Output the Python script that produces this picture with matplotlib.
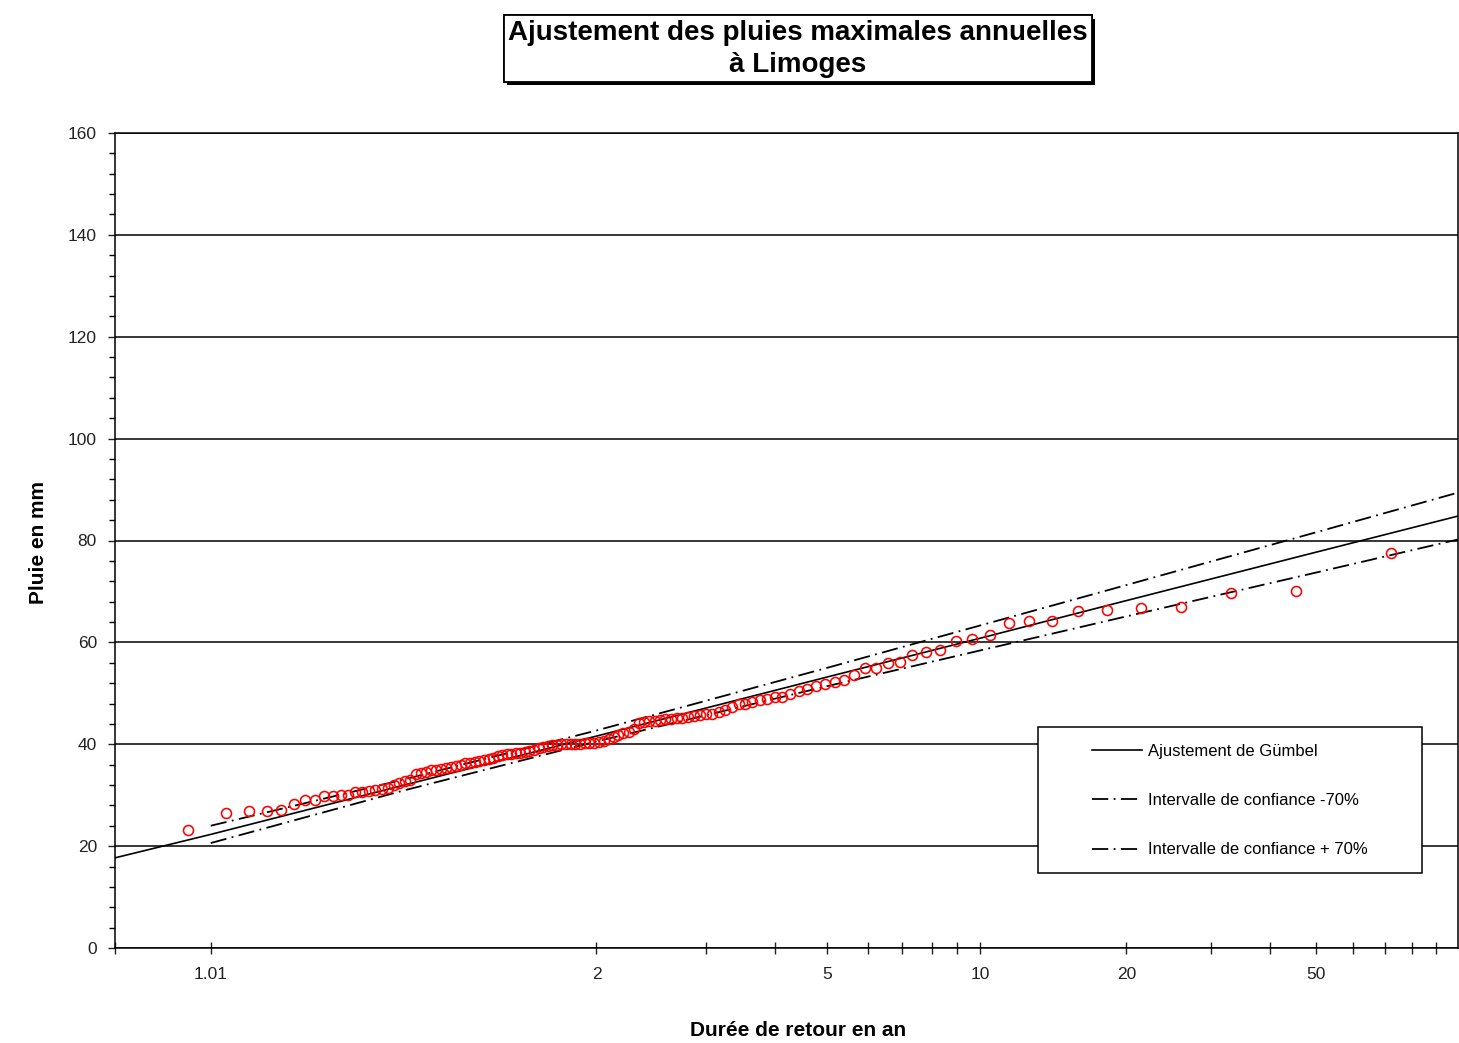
import numpy as np
import matplotlib
matplotlib.use("Agg")
from matplotlib import pyplot as plt, patches, patheffects
from matplotlib.lines import Line2D

plt.rcParams['font.family'] = ['Liberation Sans', 'DejaVu Sans']

# pluies maximales annuelles classees (mm) - le maximum (T > 100 ans) sort du cadre
pluie_obs = [23.2, 26.5, 26.8, 26.8, 27.1, 28.2, 29.0, 29.1, 29.8, 29.8,
             30.0, 30.0, 30.6, 30.6, 30.9, 31.0, 31.2, 31.4, 32.0, 32.4,
             32.8, 33.0, 34.2, 34.4, 34.6, 34.9, 35.0, 35.2, 35.3, 35.5,
             35.7, 36.0, 36.3, 36.4, 36.5, 36.7, 37.0, 37.1, 37.3, 37.6,
             37.9, 38.0, 38.1, 38.2, 38.3, 38.5, 38.7, 38.9, 39.2, 39.5,
             39.6, 39.8, 39.9, 40.0, 40.0, 40.0, 40.0, 40.1, 40.2, 40.2,
             40.3, 40.4, 40.6, 41.0, 41.4, 41.8, 42.2, 42.5, 42.9, 44.2,
             44.3, 44.5, 44.6, 44.8, 45.0, 45.0, 45.1, 45.2, 45.3, 45.5,
             45.7, 45.9, 46.0, 46.4, 46.8, 47.4, 47.9, 48.0, 48.3, 48.6,
             48.9, 49.2, 49.3, 49.9, 50.4, 50.9, 51.4, 51.8, 52.2, 52.7,
             53.6, 54.9, 55.0, 55.9, 56.2, 57.6, 58.2, 58.6, 60.2, 60.6,
             61.5, 63.8, 64.1, 64.1, 66.1, 66.4, 66.8, 67.0, 69.7, 70.0,
             77.6]
n_annees = 122

# droite de Gumbel
T_ajust = [1.00062, 1.01, 2, 5, 10, 20, 50, 100]
P_ajust = [17.7, 22.3, 41.6, 53.2, 60.8, 68.2, 77.7, 84.8]

# intervalles de confiance 70%
T_bande = [1.01, 1.2, 2, 5, 10, 20, 50, 100]
P_bande_bas = [20.6, 30.9, 40.55, 51.4, 58.4, 65.1, 73.7, 80.2]
P_bande_haut = [24.0, 33.05, 42.7, 55.0, 63.3, 71.25, 81.6, 89.4]

T_ticks = [1.00062, 1.01, 2, 3, 4, 5, 6, 7, 8, 9, 10, 20, 30, 40, 50, 60, 70, 80, 90]
T_labels = ['', '1.01', '2', '', '', '5', '', '', '', '', '10', '20', '', '', '50', '', '', '', '']


def vers_u(T):
    T = np.asarray(T, dtype=float)
    p = np.clip(1 - 1 / np.maximum(T, 1.0 + 1e-12), 1e-300, 1 - 1e-15)
    return -np.log(-np.log(p))


def depuis_u(u):
    u = np.asarray(u, dtype=float)
    return 1 / (1 - np.exp(-np.exp(-u)))


rang = np.arange(1, len(pluie_obs) + 1)
F = (rang - 0.3) / (n_annees + 0.4)
T_obs = 1 / (1 - F)

fig = plt.figure(figsize=(14.59, 10.43), dpi=100)
fig.set_facecolor('white')
ax = fig.add_axes([115/1459, 1 - 948/1043, (1458-115)/1459, (948-133)/1043])
ax.set_xscale('function', functions=(vers_u, depuis_u))

dash = (0, (9, 3, 1, 3))
ax.plot(T_ajust, P_ajust, color='black', lw=1.2, zorder=3)
ax.plot(T_bande, P_bande_bas, color='black', lw=1.3, linestyle=dash, zorder=3)
ax.plot(T_bande, P_bande_haut, color='black', lw=1.3, linestyle=dash, zorder=3)
ax.plot(T_obs, pluie_obs, linestyle='none', marker='o', markersize=7.2,
        markerfacecolor='none', markeredgecolor='red', markeredgewidth=1.15, zorder=4)

ax.set_xlim(1.00062, 100)
ax.set_ylim(0, 160)
ax.set_xticks(T_ticks)
ax.set_xticklabels(T_labels)
ax.xaxis.set_minor_locator(matplotlib.ticker.NullLocator())
ax.set_yticks(np.arange(0, 161, 20))
ax.set_yticks(np.arange(0, 161, 4), minor=True)

ax.tick_params(axis='x', direction='inout', length=9, width=1, pad=9, labelsize=12.5, colors='#222222')
ax.tick_params(axis='y', which='major', direction='out', length=5, width=1, pad=8, labelsize=12.5, colors='#222222')
ax.tick_params(axis='y', which='minor', direction='out', length=4, width=1)

ax.yaxis.grid(True, color='black', lw=1.1)
ax.set_axisbelow(True)
for s in ax.spines.values():
    s.set_linewidth(1.1)
    s.set_color('black')

# legende
bx, by, bw, bh = 0.6873, 0.0920, 0.2859, 0.1792
ax.add_patch(patches.Rectangle((bx, by), bw, bh, transform=ax.transAxes,
                               facecolor='white', edgecolor='black', lw=1.1, zorder=5))
handles = [Line2D([], [], color='black', lw=1.2),
           Line2D([], [], color='black', lw=1.3, linestyle=dash),
           Line2D([], [], color='black', lw=1.3, linestyle=dash)]
labels = ['Ajustement de Gümbel', 'Intervalle de confiance -70%', 'Intervalle de confiance + 70%']
leg = ax.legend(handles, labels, loc='center', bbox_to_anchor=(bx + bw/2, by + bh/2 - 0.001),
                frameon=False, fontsize=12, labelspacing=2.05, handlelength=3.0,
                handletextpad=0.4, borderpad=0)
leg.set_zorder(6)

fig.text(798/1459, 1 - 1031/1043, 'Durée de retour en an', ha='center', va='center',
         fontsize=15, fontweight='bold')
fig.text(38/1459, 1 - 543/1043, 'Pluie en mm', ha='center', va='center',
         fontsize=15, fontweight='bold', rotation=90)

t = fig.text(798/1459, 1 - 48.5/1043, 'Ajustement des pluies maximales annuelles\nà Limoges',
             ha='center', va='center', fontsize=20, fontweight='bold', linespacing=1.3,
             bbox=dict(boxstyle='square,pad=0.15', fc='white', ec='black', lw=1.3))
t.get_bbox_patch().set_path_effects([
    patheffects.withSimplePatchShadow(offset=(2.5, -2.5), shadow_rgbFace='black', alpha=1.0),
    patheffects.Normal()])

fig.savefig('out.png', dpi=100)
